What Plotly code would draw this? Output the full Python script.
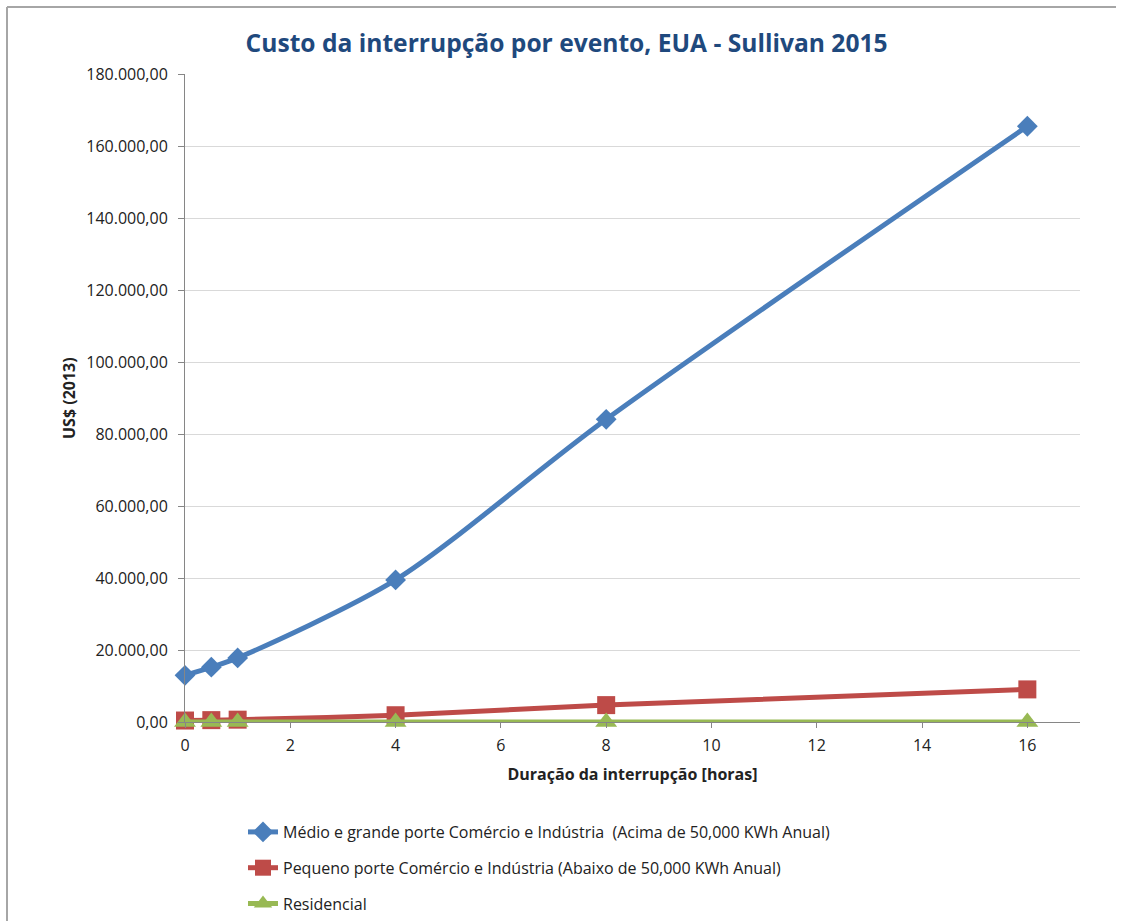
import plotly.graph_objects as go

# Duração da interrupção (horas)
duracao = [0, 0.5, 1, 4, 8, 16]

# Custo por evento, US$ (2013)
medio_grande = [12952, 15241, 17804, 39458, 84083, 165482]
pequeno = [412, 520, 647, 1880, 4690, 9055]
residencial = [3.9, 4.5, 5.1, 9.5, 17.2, 32.4]

nomes = [
    "Médio e grande porte Comércio e Indústria  (Acima de 50,000 KWh Anual)",
    "Pequeno porte Comércio e Indústria (Abaixo de 50,000 KWh Anual)",
    "Residencial",
]

y_ticks = [0, 20000, 40000, 60000, 80000, 100000, 120000, 140000, 160000, 180000]
x_ticks = [0, 2, 4, 6, 8, 10, 12, 14, 16]

font_family = "Open Sans, Liberation Sans, sans-serif"

series = [
    (medio_grande, nomes[0], "#4A7EBB", "diamond", 16),
    (pequeno, nomes[1], "#BE4B48", "square", 18),
    (residencial, nomes[2], "#98B954", "triangle-up", 19),
]

fig = go.Figure()
for i, (vals, nome, cor, simbolo, tam) in enumerate(series):
    fig.add_trace(go.Scatter(
        x=duracao, y=vals, name=nome, mode="lines+markers",
        line=dict(color=cor, width=5, shape="spline", smoothing=0.8),
        marker=dict(symbol=simbolo, size=tam, color=cor),
        legendgroup=f"g{i}", cliponaxis=False,
    ))

W, H = 1122, 921
L, R, T, B = 185, 42, 74, 199
pw, ph = W - L - R, H - T - B

def px_x(p):
    return (p - L) / pw

def px_y(p):
    return (H - B - p) / ph

fig.update_layout(
    width=W, height=H,
    margin=dict(l=L, r=R, t=T, b=B, autoexpand=False),
    paper_bgcolor="white", plot_bgcolor="white",
    separators=",.",
    font=dict(family=font_family, color="#222222", size=16),
    title=dict(
        text="<b>Custo da interrupção por evento, EUA - Sullivan 2015</b>",
        x=0.505, xanchor="center", y=1 - 43 / H, yanchor="middle",
        font=dict(size=24.6, color="#1F497D"),
    ),
    xaxis=dict(
        range=[0, 17], tickvals=x_ticks, ticktext=[str(t) for t in x_ticks],
        showgrid=False, zeroline=False,
        showline=True, linecolor="#868686", linewidth=1,
        ticks="outside", ticklen=5, tickcolor="#868686",
        ticklabelstandoff=4,
        tickfont=dict(size=16),
        title=dict(text="<b>Duração da interrupção [horas]</b>", font=dict(size=16), standoff=13),
    ),
    yaxis=dict(
        range=[0, 180000], tickvals=y_ticks, tickformat=",.2f",
        showgrid=True, gridcolor="#D9D9D9", gridwidth=1, zeroline=False,
        showline=True, linecolor="#868686", linewidth=1,
        ticks="outside", ticklen=6, tickcolor="#868686",
        ticklabelstandoff=7,
        tickfont=dict(size=16),
    ),
    legend=dict(
        xref="container", yref="container",
        x=243 / W, y=1 - 815 / H, xanchor="left", yanchor="top",
        orientation="v", font=dict(size=16), tracegroupgap=12,
        bgcolor="rgba(0,0,0,0)",
    ),
    showlegend=True,
    annotations=[
        dict(text="<b>US$ (2013)</b>", xref="paper", yref="paper",
             x=px_x(69), y=px_y(398), xanchor="center", yanchor="middle",
             textangle=-90, showarrow=False, font=dict(size=16)),
    ],
    shapes=[
        dict(type="line", xref="paper", yref="paper",
             x0=px_x(7), x1=px_x(7), y0=px_y(7), y1=px_y(921),
             line=dict(color="#A6A6A6", width=2)),
        dict(type="line", xref="paper", yref="paper",
             x0=px_x(7), x1=px_x(1116), y0=px_y(7), y1=px_y(7),
             line=dict(color="#A6A6A6", width=2)),
    ],
)

fig.write_html("out.html")
